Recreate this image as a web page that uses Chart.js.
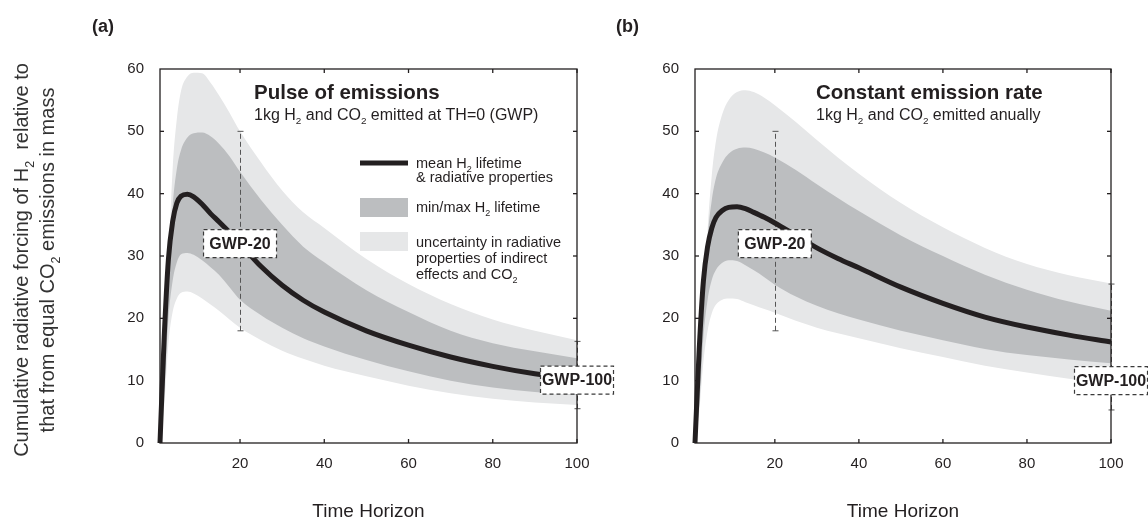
<!DOCTYPE html>
<html>
<head>
<meta charset="utf-8">
<script src="https://cdn.jsdelivr.net/npm/chart.js@4.4.0/dist/chart.umd.min.js"></script>
<style>
  body { margin: 0; background: #fff; width: 1148px; height: 521px; position: relative; overflow: hidden; }
  canvas { position: absolute; top: 0; }
  #ca { left: 0; }
  #cb { left: 580px; }
</style>
</head>
<body>
<canvas id="ca" width="640" height="521"></canvas>
<canvas id="cb" width="568" height="521"></canvas>
<script>
// time horizon (years)
const years = [1, 2, 3, 4, 5, 6, 7.5, 9, 11, 13, 15, 17.5, 20, 25, 30, 35, 40, 50, 60, 70, 80, 90, 100];
const xTicks = [20, 40, 60, 80, 100];
const yTicks = [0, 10, 20, 30, 40, 50, 60];

// (a) pulse of emissions
const meanPulse   = [0, 17, 29.5, 35.5, 38.5, 39.6, 39.9, 39.5, 38.3, 36.8, 35.5, 33.8, 32, 28.3, 25.3, 22.9, 21, 18, 15.7, 13.8, 12.3, 11.1, 10.2];
const lifeHiPulse = [0, 10, 26, 38, 44, 47, 49, 49.7, 49.8, 49.2, 48, 46, 43.5, 39, 35, 31.5, 29, 24.5, 21, 18, 16, 14.7, 13.6];
const lifeLoPulse = [0, 8, 20, 26, 29, 30.3, 30.5, 30.2, 29.3, 28.2, 27, 25, 23, 20.5, 18.5, 16.8, 15.5, 13.3, 11.5, 10, 8.9, 8.2, 7.7];
const radHiPulse  = [0, 8, 28, 44, 52, 56.5, 58.8, 59.4, 59.3, 57.8, 55.8, 53, 50, 45, 40.5, 37, 34.5, 29.5, 25.5, 22.3, 19.8, 18, 16.5];
const radLoPulse  = [0, 6, 16, 21, 23.2, 24.1, 24.3, 24, 23.2, 22.2, 21.2, 19.8, 18.5, 16.5, 14.8, 13.5, 12.4, 10.7, 9.2, 8, 7.1, 6.5, 6.1];

// (b) constant emission rate
const meanConst   = [0, 15, 26, 31.5, 34.5, 36.2, 37.3, 37.8, 37.9, 37.6, 37, 36.2, 35.3, 33.3, 31.3, 29.6, 28.1, 25, 22.4, 20.2, 18.6, 17.3, 16.2];
const lifeHiConst = [0, 8, 22, 33, 39, 42.5, 45, 46.4, 47.2, 47.4, 47.2, 46.6, 45.8, 43.8, 41.5, 39.3, 37.2, 33.3, 30, 27, 24.6, 22.7, 21.2];
const lifeLoConst = [0, 6, 17, 23, 26.2, 27.8, 28.9, 29.3, 29.2, 28.5, 27.7, 26.6, 25.4, 23.5, 22, 20.8, 19.8, 18, 16.5, 15.1, 14.1, 13.4, 12.8];
const radHiConst  = [0, 8, 18, 34, 43, 48.5, 52.8, 55, 56.3, 56.6, 56.3, 55.4, 54.2, 51.5, 48.6, 45.8, 43.2, 38.5, 34.6, 31.3, 28.7, 26.9, 25.6];
const radLoConst  = [0, 5, 13, 18, 20.8, 22.2, 23, 23.2, 23.1, 22.6, 22.1, 21.5, 20.9, 19.6, 18.5, 17.6, 16.8, 15.2, 13.8, 12.4, 11.3, 10.3, 9.5];

// GWP error bars (ranges at TH=20 and TH=100)
const gwpYears   = [20, 100];
const gwpNames   = ['GWP-20', 'GWP-100'];
const errLoPulse = [18, 5.5];
const errHiPulse = [50, 16.3];
const errLoConst = [18, 5.3];
const errHiConst = [50, 25.5];

const FONT = '"Liberation Sans", Arial, Helvetica, sans-serif';
const INK = '#231f20';
const LIGHT = '#e6e7e8';
const DARK = '#bcbec0';

function pts(ys) { return years.map((x, i) => ({ x: x, y: ys[i] })); }

// draws text with "_" prefixed parts as subscripts
function rich(ctx, x, y, parts, size, bold, align) {
  const f = sub => (bold ? 'bold ' : '') + (sub ? size * 0.62 : size) + 'px ' + FONT;
  let w = 0;
  parts.forEach(p => { const sub = p[0] === '_'; ctx.font = f(sub); w += ctx.measureText(sub ? p.slice(1) : p).width; });
  let cx = align === 'center' ? x - w / 2 : x;
  ctx.textAlign = 'left';
  ctx.textBaseline = 'alphabetic';
  parts.forEach(p => {
    const sub = p[0] === '_';
    const t = sub ? p.slice(1) : p;
    ctx.font = f(sub);
    ctx.fillText(t, cx, sub ? y + size * 0.28 : y);
    cx += ctx.measureText(t).width;
  });
}

function dashedBox(ctx, cx, cy, w, h, text) {
  ctx.save();
  ctx.fillStyle = '#fff';
  ctx.fillRect(cx - w / 2, cy - h / 2, w, h);
  ctx.setLineDash([4, 3]);
  ctx.strokeStyle = '#3a3a3a';
  ctx.lineWidth = 1.2;
  ctx.strokeRect(cx - w / 2, cy - h / 2, w, h);
  ctx.setLineDash([]);
  ctx.fillStyle = INK;
  ctx.font = 'bold 16px ' + FONT;
  ctx.textAlign = 'center';
  ctx.textBaseline = 'middle';
  ctx.fillText(text, cx, cy + 1);
  ctx.restore();
}

function line(ctx, x1, y1, x2, y2) { ctx.beginPath(); ctx.moveTo(x1, y1); ctx.lineTo(x2, y2); ctx.stroke(); }

const decor = {
  id: 'decor',
  beforeDatasetDraw(chart, args, o) {
    if (args.index !== 0) return;
    const ctx = chart.ctx, xs = chart.scales.x, ys = chart.scales.y;
    ctx.save();
    ctx.strokeStyle = '#555';
    ctx.lineWidth = 1;
    gwpYears.forEach((yr, i) => {
      const px = Math.round(xs.getPixelForValue(yr)) + 0.5;
      const y1 = ys.getPixelForValue(o.errLo[i]), y2 = ys.getPixelForValue(o.errHi[i]);
      ctx.setLineDash([5, 3]);
      line(ctx, px, y1, px, y2);
      ctx.setLineDash([]);
      line(ctx, px - 3, y1, px + 3, y1);
      line(ctx, px - 3, y2, px + 3, y2);
    });
    ctx.restore();
  },
  afterDatasetsDraw(chart, args, o) {
    const ctx = chart.ctx, xs = chart.scales.x, ys = chart.scales.y;
    const { left, right, top, bottom } = chart.chartArea;
    ctx.save();
    // frame and inward ticks
    ctx.strokeStyle = INK;
    ctx.lineWidth = 1.3;
    ctx.strokeRect(left, top, right - left, bottom - top);
    xTicks.forEach(v => {
      const px = xs.getPixelForValue(v);
      line(ctx, px, bottom, px, bottom - 4);
      line(ctx, px, top, px, top + 4);
    });
    yTicks.slice(1, -1).forEach(v => {
      const py = ys.getPixelForValue(v);
      line(ctx, left, py, left + 4, py);
      line(ctx, right, py, right - 4, py);
    });
    // GWP labels
    gwpYears.forEach((yr, i) => {
      dashedBox(ctx, xs.getPixelForValue(yr), ys.getPixelForValue(o.boxAt[i]), 73, 28, gwpNames[i]);
    });
    // panel letter and headings
    ctx.fillStyle = INK;
    ctx.font = 'bold 18px ' + FONT;
    ctx.textAlign = 'left';
    ctx.textBaseline = 'middle';
    ctx.fillText(o.letter, o.letterX, 27);
    ctx.font = 'bold 20.5px ' + FONT;
    ctx.textBaseline = 'alphabetic';
    ctx.fillText(o.heading, o.headX, 99);
    rich(ctx, o.headX, 120, o.sub, 16, false, 'left');
    if (o.legend) {
      const lx = o.headX + 106;
      ctx.strokeStyle = INK;
      ctx.lineWidth = 5;
      line(ctx, lx, 163, lx + 48, 163);
      ctx.fillStyle = DARK;
      ctx.fillRect(lx, 198, 48, 19);
      ctx.fillStyle = LIGHT;
      ctx.fillRect(lx, 232, 48, 19);
      ctx.fillStyle = INK;
      const tx = lx + 56;
      rich(ctx, tx, 168, ['mean H', '_2', ' lifetime'], 14.5, false, 'left');
      rich(ctx, tx, 182, ['& radiative properties'], 14.5, false, 'left');
      rich(ctx, tx, 212, ['min/max H', '_2', ' lifetime'], 14.5, false, 'left');
      rich(ctx, tx, 247, ['uncertainty in radiative'], 14.5, false, 'left');
      rich(ctx, tx, 263, ['properties of indirect'], 14.5, false, 'left');
      rich(ctx, tx, 279, ['effects and CO', '_2'], 14.5, false, 'left');
    }
    if (o.yTitle) {
      ctx.translate(0, 260);
      ctx.rotate(-Math.PI / 2);
      ctx.fillStyle = '#333';
      rich(ctx, 0, 28, ['Cumulative radiative forcing of H', '_2', '  relative to'], 20, false, 'center');
      rich(ctx, 0, 54, ['that from equal CO', '_2', ' emissions in mass'], 20, false, 'center');
    }
    ctx.restore();
  }
};

function makeChart(id, padL, padR, series, deco) {
  const datasets = [
    { data: pts(series.mean), borderColor: INK, borderWidth: 5, clip: 6, fill: false },
    { data: pts(series.lifeHi), borderWidth: 0, backgroundColor: DARK, fill: { target: 2 } },
    { data: pts(series.lifeLo), borderWidth: 0, fill: false },
    { data: pts(series.radHi), borderWidth: 0, backgroundColor: LIGHT, fill: { target: 4 } },
    { data: pts(series.radLo), borderWidth: 0, fill: false }
  ];
  datasets.forEach(d => { d.pointRadius = 0; d.cubicInterpolationMode = 'monotone'; });
  return new Chart(document.getElementById(id).getContext('2d'), {
    type: 'line',
    data: { datasets: datasets },
    plugins: [decor],
    options: {
      responsive: false,
      animation: false,
      layout: { padding: { left: padL, right: padR, top: 69, bottom: 0 } },
      plugins: { legend: { display: false }, tooltip: { enabled: false }, decor: deco },
      scales: {
        x: {
          type: 'linear', min: 1, max: 100,
          afterBuildTicks: s => { s.ticks = xTicks.map(v => ({ value: v })); },
          afterFit: s => { s.height = 78; },
          grid: { display: false, drawTicks: false },
          border: { display: false },
          ticks: { padding: 12, color: INK, font: { size: 15, family: FONT }, maxRotation: 0, autoSkip: false },
          title: { display: true, text: 'Time Horizon', color: INK, font: { size: 19, family: FONT, lineHeight: 1 }, padding: 0 }
        },
        y: {
          min: 0, max: 60,
          afterBuildTicks: s => { s.ticks = yTicks.map(v => ({ value: v })); },
          afterFit: s => { s.width = 40; },
          grid: { display: false, drawTicks: false },
          border: { display: false },
          ticks: { padding: 16, color: INK, font: { size: 15, family: FONT } }
        }
      }
    }
  });
}

makeChart('ca', 120, 63,
  { mean: meanPulse, lifeHi: lifeHiPulse, lifeLo: lifeLoPulse, radHi: radHiPulse, radLo: radLoPulse },
  { errLo: errLoPulse, errHi: errHiPulse, boxAt: [32, 10.1], letter: '(a)', letterX: 92,
    heading: 'Pulse of emissions', headX: 254,
    sub: ['1kg H', '_2', ' and CO', '_2', ' emitted at TH=0 (GWP)'], legend: true, yTitle: true });

makeChart('cb', 75, 37,
  { mean: meanConst, lifeHi: lifeHiConst, lifeLo: lifeLoConst, radHi: radHiConst, radLo: radLoConst },
  { errLo: errLoConst, errHi: errHiConst, boxAt: [32, 10], letter: '(b)', letterX: 36,
    heading: 'Constant emission rate', headX: 236,
    sub: ['1kg H', '_2', ' and CO', '_2', ' emitted anually'], legend: false, yTitle: false });
</script>
</body>
</html>
